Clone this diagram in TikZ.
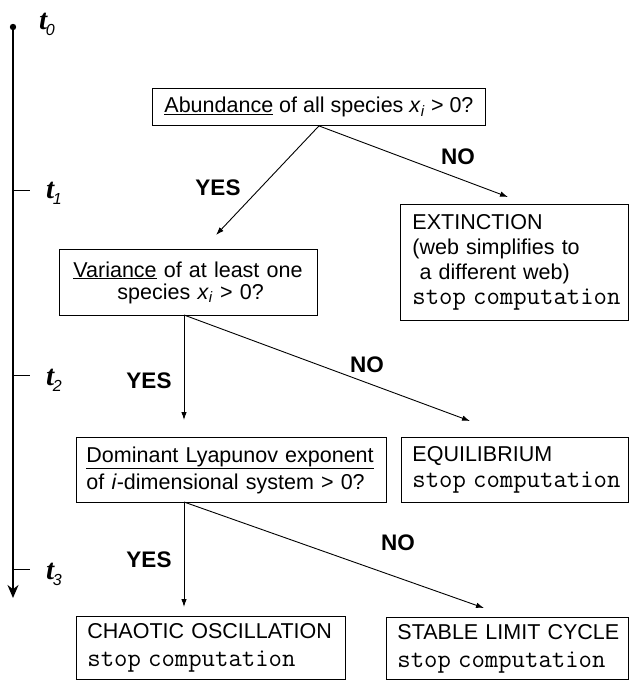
\documentclass[tikz,border=0pt]{standalone}
\usepackage{fontspec}
\setmainfont{Liberation Sans}
\newfontfamily\serifbi{Liberation Serif}
\usetikzlibrary{arrows.meta}
\newcommand\myline[1]{\mbox{#1}}
\newcommand\mono[1]{{\ttfamily\fontsize{26}{26}\selectfont #1}}
\newcommand\tlab[1]{{\serifbi\bfseries\itshape\fontsize{29}{29}\selectfont t}\kern-1.5pt\raisebox{-6pt}{\fontsize{16}{16}\selectfont\itshape #1}}
\newcommand\myxi{\textit{x}\textsubscript{\textit{i}}}
\begin{document}
\begin{tikzpicture}[x=1pt,y=-1pt,
  box/.style={draw, line width=0.9pt, anchor=north west, inner ysep=0pt, align=left,
    font=\fontsize{21.5}{26}\selectfont},
  lab/.style={font=\bfseries\fontsize{22.5}{22.5}\selectfont, inner sep=0pt},
  tl/.style={anchor=west, inner sep=0pt},
  flow/.style={line width=0.9pt, -{Latex[length=8pt,width=5.5pt]}},
  axis/.style={line width=1.3pt, -{Stealth[length=13pt,width=11pt]}},
  tick/.style={line width=1pt}]
\useasboundingbox[fill=white] (0,0) rectangle (629,682);

% time axis
\coordinate (ttop) at (13,27);
\coordinate (tbot) at (13,598);
\fill (ttop) circle (3.2pt);
\draw[axis] (ttop) -- (tbot);
\coordinate (k1a) at (13,190); \coordinate (k1b) at (30,190);
\coordinate (k2a) at (13,375); \coordinate (k2b) at (30,375);
\coordinate (k3a) at (13,569); \coordinate (k3b) at (30,569);
\draw[tick] (k1a) -- (k1b);
\draw[tick] (k2a) -- (k2b);
\draw[tick] (k3a) -- (k3b);
\node[tl] (t0) at (39,24) {\tlab{0}};
\node[tl] (t1) at (46,193) {\tlab{1}};
\node[tl] (t2) at (46,380) {\tlab{2}};
\node[tl] (t3) at (46,574) {\tlab{3}};

% boxes
\node[box, inner xsep=0pt, minimum width=333pt, minimum height=37pt, align=center] (ab) at (152,88)
  {\underline{Abundance} of all species \myxi{} > 0?};
\node[box, inner xsep=14pt, text width=230pt, minimum height=66pt,
  font=\fontsize{21.5}{22}\selectfont] (var) at (59,249)
  {\myline{\underline{Variance} of at least one}\\\myline{\hspace*{44pt}species \myxi{} > 0?}};
\node[box, inner xsep=12pt, text width=204pt, minimum height=116pt,
  font=\fontsize{21.5}{25}\selectfont] (ext) at (400,204)
  {EXTINCTION\\\myline{(web simplifies to}\\\myline{\ a different web)}\\\myline{\mono{stop computation}}};
\node[box, inner xsep=10pt, text width=290pt, minimum height=65pt,
  font=\fontsize{21.5}{27}\selectfont] (lya) at (76,437)
  {\myline{\underline{Dominant Lyapunov exponent}}\\\myline{of \textit{i}-dimensional system > 0?}};
\node[box, inner xsep=11pt, text width=205pt, minimum height=65pt] (eq) at (401,437)
  {EQUILIBRIUM\\\myline{\mono{stop computation}}};
\node[box, inner xsep=11pt, text width=247pt, minimum height=63pt,
  font=\fontsize{21.5}{28}\selectfont] (cha) at (76,616)
  {\myline{CHAOTIC OSCILLATION}\\\myline{\mono{stop computation}}};
\node[box, inner xsep=11pt, text width=220pt, minimum height=62pt,
  font=\fontsize{21.5}{28}\selectfont] (slc) at (386,617)
  {\myline{STABLE LIMIT CYCLE}\\\myline{\mono{stop computation}}};

% connector points
\coordinate (e1y) at (216,235);
\coordinate (e1n) at (508,197);
\coordinate (s2) at (184,315);
\coordinate (e2y) at (184,420);
\coordinate (e2n) at (470,421);
\coordinate (s3) at (184,502);
\coordinate (e3y) at (184,607);
\coordinate (e3n) at (484,608);

\draw[flow] (ab.south) -- (e1y);
\draw[flow] (ab.south) -- (e1n);
\draw[flow] (s2) -- (e2y);
\draw[flow] (s2) -- (e2n);
\draw[flow] (s3) -- (e3y);
\draw[flow] (s3) -- (e3n);

% labels
\node[lab] (y1) at (218,188) {YES};
\node[lab] (n1) at (458,157) {NO};
\node[lab] (y2) at (149,381) {YES};
\node[lab] (n2) at (367,365) {NO};
\node[lab] (y3) at (149,560) {YES};
\node[lab] (n3) at (398,543) {NO};
\end{tikzpicture}
\end{document}
